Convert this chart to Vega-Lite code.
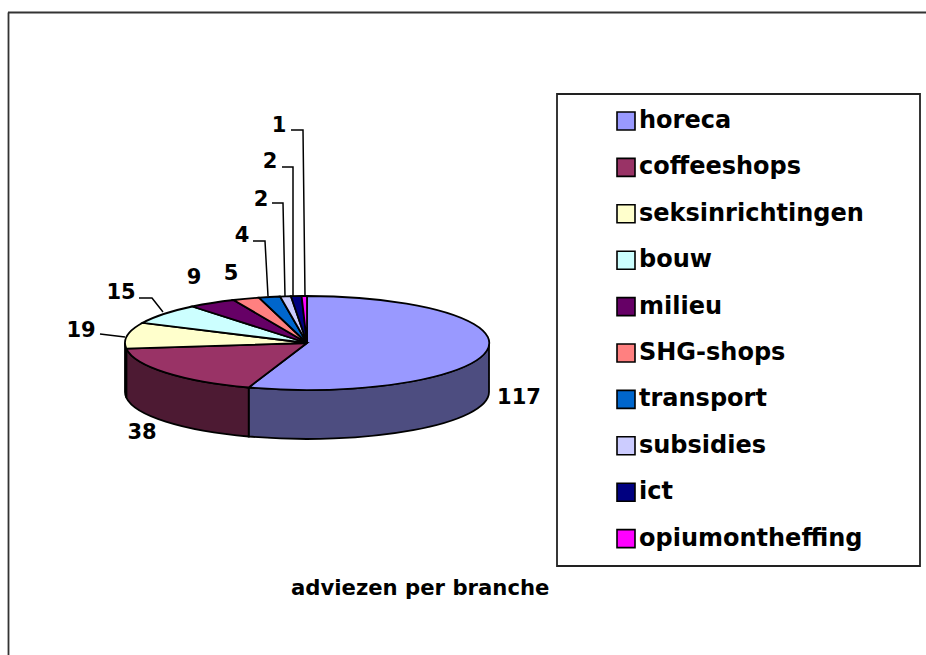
{
"$schema":"https://vega.github.io/schema/vega-lite/v6.json",
"width":926,"height":655,"padding":0,
"autosize":{"type":"fit","contains":"padding"},
"background":"white",
"view":{"stroke":null},
"data":{"values":[
{"rang":1,"branche":"horeca","adviezen":117},
{"rang":2,"branche":"coffeeshops","adviezen":38},
{"rang":3,"branche":"seksinrichtingen","adviezen":19},
{"rang":4,"branche":"bouw","adviezen":15},
{"rang":5,"branche":"milieu","adviezen":9},
{"rang":6,"branche":"SHG-shops","adviezen":5},
{"rang":7,"branche":"transport","adviezen":4},
{"rang":8,"branche":"subsidies","adviezen":2},
{"rang":9,"branche":"ict","adviezen":2},
{"rang":10,"branche":"opiumontheffing","adviezen":1}
]},
"layer":[
{"data":{"values":[{"kader":"rand"}]},
 "mark":{"type":"rule","color":"#333333","strokeWidth":1.8},
 "encoding":{
  "x":{"datum":8.5,"scale":{"domain":[0,926],"range":[0,926]},"axis":null},
  "y":{"datum":12.5,"scale":{"domain":[0,655],"range":[0,655]},"axis":null},
  "y2":{"datum":655}}},
{"data":{"values":[{"kader":"rand"}]},
 "mark":{"type":"rule","color":"#333333","strokeWidth":1.8},
 "encoding":{
  "y":{"datum":12.5,"scale":{"domain":[0,655],"range":[0,655]},"axis":null},
  "x":{"datum":8,"scale":{"domain":[0,926],"range":[0,926]},"axis":null},
  "x2":{"datum":926}}},
{"data":{"values":[{"kader":"legenda"}]},
 "mark":{"type":"rect","fill":"white","stroke":"#222222","strokeWidth":1.8},
 "encoding":{
  "x":{"datum":557,"scale":{"domain":[0,926],"range":[0,926]},"axis":null},
  "x2":{"datum":920},
  "y":{"datum":94,"scale":{"domain":[0,655],"range":[0,655]},"axis":null},
  "y2":{"datum":566}}},
{"mark":{"type":"square","size":0,"opacity":1,"stroke":"black","strokeWidth":0},
 "encoding":{
  "x":{"datum":617,"scale":{"domain":[0,926],"range":[0,926]},"axis":null},
  "y":{"datum":111,"scale":{"domain":[0,655],"range":[0,655]},"axis":null},
  "color":{"field":"branche","type":"nominal",
   "scale":{"domain":["horeca","coffeeshops","seksinrichtingen","bouw","milieu","SHG-shops","transport","subsidies","ict","opiumontheffing"],
    "range":["#9999ff","#993366","#ffffcc","#ccffff","#660066","#ff8080","#0066cc","#ccccff","#000080","#ff00ff"]},
   "legend":{"title":null,"orient":"none","legendX":614,"legendY":109,"symbolType":"square","symbolSize":324,"symbolStrokeColor":"black","symbolStrokeWidth":1.6,"symbolOpacity":1,"labelFont":"DejaVu Sans","labelFontWeight":"bold","labelFontSize":24,"labelColor":"black","labelOffset":1,"labelLimit":300,"rowPadding":20.4,"padding":0}}}},
{"transform":[{"filter":"datum.rang<=3"}],
 "mark":{"type":"point","filled":true,"opacity":1,"size":4,"stroke":"black","strokeWidth":1.8},
 "encoding":{
  "x":{"datum":307,"scale":{"domain":[0,926],"range":[0,926]},"axis":null},
  "y":{"datum":343,"scale":{"domain":[0,655],"range":[0,655]},"axis":null},
  "color":{"field":"branche","type":"nominal","legend":null,"scale":{"domain":["horeca","coffeeshops","seksinrichtingen"],"range":["#4d4d80","#4d1a33","#808066"]}},
  "shape":{"field":"branche","type":"nominal","legend":null,"scale":{"domain":["horeca","coffeeshops","seksinrichtingen"],"range":[
   "M182,0 A182,47 0 0 1 -58.3,44.5 L-58.3,93.5 A182,47 0 0 0 182,49 Z",
   "M-58.3,44.5 A182,47 0 0 1 -180.7,5.6 L-180.7,54.6 A182,47 0 0 0 -58.3,93.5 Z",
   "M-180.7,5.6 A182,47 0 0 1 -182,0 L-182,49 A182,47 0 0 0 -180.7,54.6 Z"]}}}},
{"mark":{"type":"point","filled":true,"opacity":1,"size":4,"stroke":"black","strokeWidth":1.8},
 "encoding":{
  "x":{"datum":307,"scale":{"domain":[0,926],"range":[0,926]},"axis":null},
  "y":{"datum":343,"scale":{"domain":[0,655],"range":[0,655]},"axis":null},
  "color":{"field":"branche","type":"nominal","legend":null,
   "scale":{"domain":["horeca","coffeeshops","seksinrichtingen","bouw","milieu","SHG-shops","transport","subsidies","ict","opiumontheffing"],
    "range":["#9999ff","#993366","#ffffcc","#ccffff","#660066","#ff8080","#0066cc","#ccccff","#000080","#ff00ff"]}},
  "shape":{"field":"branche","type":"nominal","legend":null,"scale":{"domain":["horeca","coffeeshops","seksinrichtingen","bouw","milieu","SHG-shops","transport","subsidies","ict","opiumontheffing"],"range":[
   "M0,0 L0,-47 A182,47 0 1 1 -58.3,44.5 Z",
   "M0,0 L-58.3,44.5 A182,47 0 0 1 -180.7,5.6 Z",
   "M0,0 L-180.7,5.6 A182,47 0 0 1 -164.3,-20.2 Z",
   "M0,0 L-164.3,-20.2 A182,47 0 0 1 -114.7,-36.5 Z",
   "M0,0 L-114.7,-36.5 A182,47 0 0 1 -73.4,-43 Z",
   "M0,0 L-73.4,-43 A182,47 0 0 1 -48,-45.3 Z",
   "M0,0 L-48,-45.3 A182,47 0 0 1 -26.9,-46.5 Z",
   "M0,0 L-26.9,-46.5 A182,47 0 0 1 -16.1,-46.8 Z",
   "M0,0 L-16.1,-46.8 A182,47 0 0 1 -5.4,-47 Z",
   "M0,0 L-5.4,-47 A182,47 0 0 1 0,-47 Z"]}}}},
{"transform":[{"filter":"datum.rang==3||datum.rang==4||datum.rang>=7"}],
 "mark":{"type":"point","filled":false,"opacity":1,"size":4,"stroke":"black","strokeWidth":1.5},
 "encoding":{
  "x":{"datum":307,"scale":{"domain":[0,926],"range":[0,926]},"axis":null},
  "y":{"datum":343,"scale":{"domain":[0,655],"range":[0,655]},"axis":null},
  "shape":{"field":"branche","type":"nominal","legend":null,"scale":{"domain":["seksinrichtingen","bouw","transport","subsidies","ict","opiumontheffing"],"range":[
   "M-207,-9 L-182,-6",
   "M-168,-45 L-155,-45 L-144,-31",
   "M-54,-102 L-42,-102 L-39,-47",
   "M-35,-140 L-24,-140 L-22,-47",
   "M-25,-176 L-14,-176 L-14,-47",
   "M-16,-213 L-4,-213 L-2,-47"]}}}},
{"mark":{"type":"text","font":"DejaVu Sans","fontWeight":"bold","fontSize":21,"color":"black","align":"center","baseline":"middle"},
 "encoding":{
  "x":{"field":"rang","type":"quantitative","axis":null,"scale":{"domain":[1,2,3,4,5,6,7,8,9,10],"range":[519,142,81,121,194,231,242,261,270,279],"zero":false,"nice":false}},
  "y":{"field":"rang","type":"quantitative","axis":null,"scale":{"domain":[1,2,3,4,5,6,7,8,9,10],"range":[398,433,331,293,278,274,236,200,162,126],"zero":false,"nice":false}},
  "text":{"field":"adviezen","type":"quantitative"}}},
{"data":{"values":[{"titel":"adviezen per branche"}]},
 "mark":{"type":"text","font":"DejaVu Sans","fontWeight":"bold","fontSize":21.2,"color":"black","align":"left","baseline":"middle"},
 "encoding":{
  "x":{"datum":291,"scale":{"domain":[0,926],"range":[0,926]},"axis":null},
  "y":{"datum":589,"scale":{"domain":[0,655],"range":[0,655]},"axis":null},
  "text":{"field":"titel","type":"nominal"}}}
],
"resolve":{"scale":{"x":"independent","y":"independent","color":"independent","shape":"independent"},"legend":{"color":"independent","shape":"independent"}}
}
